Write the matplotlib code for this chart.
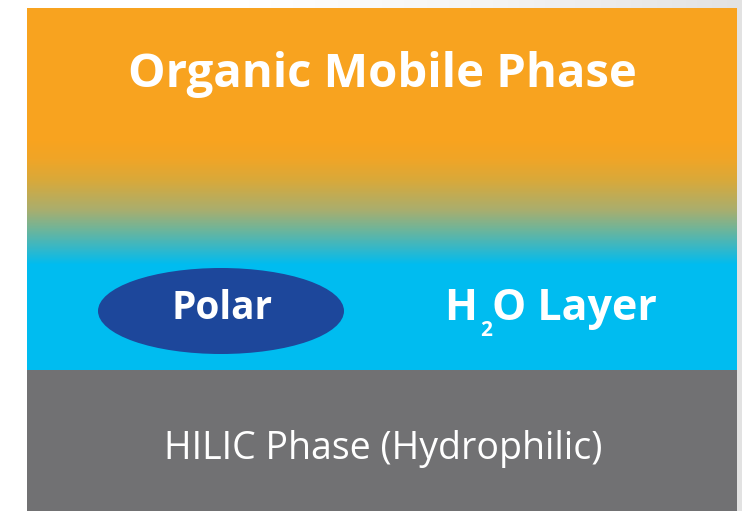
import numpy as np
import matplotlib.pyplot as plt
from matplotlib.colors import LinearSegmentedColormap
from matplotlib.patches import Ellipse, Rectangle

# layers of the diagram (top to bottom)
layer_names = ["Organic Mobile Phase", "H2O Layer", "HILIC Phase (Hydrophilic)"]
layer_colors = ["#F8A31F", "#00BCF0", "#717173"]
analyte_label = "Polar"
analyte_color = "#1D479B"

# gradient stops between organic phase and water layer (fraction, colour)
grad_stops = [(0.0, "#F8A31F"), (0.15, "#F0A527"), (0.32, "#D9A93A"),
              (0.56, "#A9AE6E"), (0.72, "#6DB59B"), (0.88, "#30B8CC"),
              (1.0, "#00BCF0")]

W, H = 742, 511
fig = plt.figure(figsize=(W / 100, H / 100), dpi=100)
ax = fig.add_axes([0, 0, 1, 1])
ax.set_xlim(0, W)
ax.set_ylim(H, 0)
ax.axis("off")

# faint grey backdrop
bg = np.linspace(0, 1, 200)[None, :]
bg_cmap = LinearSegmentedColormap.from_list("bg", ["#FFFFFF", "#FFFFFF", "#F4F4F4", "#E2E2E2"])
ax.imshow(bg, cmap=bg_cmap, extent=(0, W, H, 0), aspect="auto", zorder=0)

left, right = 27, 737
top, blend_start, blend_end, water_end = 8, 140, 265, 370

# organic -> water gradient
grad_cmap = LinearSegmentedColormap.from_list("grad", grad_stops)
g = np.linspace(0, 1, 300)[:, None]
ax.imshow(g, cmap=grad_cmap, extent=(left, right, blend_end, blend_start),
          aspect="auto", zorder=1, interpolation="bilinear")
ax.add_patch(Rectangle((left, top), right - left, blend_start - top + 1,
                       color=layer_colors[0], lw=0, zorder=1))
ax.add_patch(Rectangle((left, blend_end - 1), right - left, water_end - blend_end + 1,
                       color=layer_colors[1], lw=0, zorder=1))
ax.add_patch(Rectangle((left, water_end), right - left, H - water_end,
                       color=layer_colors[2], lw=0, zorder=1))

font = "Open Sans"
ax.text(382, 87, layer_names[0], color="white", fontsize=34, fontweight="bold",
        family=font, ha="center", va="baseline", zorder=3)

ax.add_patch(Ellipse((221, 311), 246, 86, color=analyte_color, lw=0, zorder=2))
ax.text(222, 319, analyte_label, color="white", fontsize=28, fontweight="bold",
        family=font, ha="center", va="baseline", zorder=3)

# H2O Layer with subscript
ax.text(477, 320, "H", color="white", fontsize=31, fontweight="bold",
        family=font, ha="right", va="baseline", zorder=3)
ax.text(480, 336, "2", color="white", fontsize=15, fontweight="bold",
        family=font, ha="left", va="baseline", zorder=3)
ax.text(492, 320, "O Layer", color="white", fontsize=31, fontweight="bold",
        family=font, ha="left", va="baseline", zorder=3)

ax.text(383, 459, layer_names[2], color="white", fontsize=27,
        family=font, ha="center", va="baseline", zorder=3)

fig.savefig("out.png", dpi=100)
